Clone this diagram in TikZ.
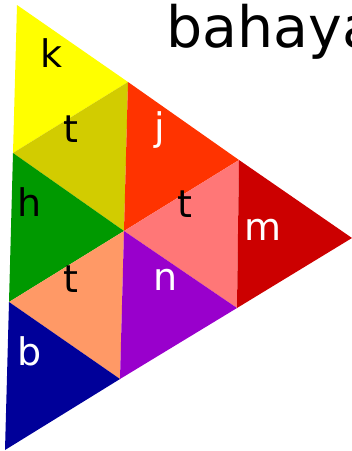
\documentclass[tikz,border=0pt]{standalone}
\usepackage{fontspec}
\setmainfont{DejaVu Sans}

\definecolor{kyellow}{HTML}{FFFF00}
\definecolor{tolive}{HTML}{D2CC00}
\definecolor{jorange}{HTML}{FF3300}
\definecolor{hgreen}{HTML}{009900}
\definecolor{tpink}{HTML}{FF7777}
\definecolor{mred}{HTML}{CC0000}
\definecolor{tsalmon}{HTML}{FF9966}
\definecolor{npurple}{HTML}{9900CC}
\definecolor{bnavy}{HTML}{000099}

\begin{document}
\begin{tikzpicture}[x=1pt,y=-1pt,
    lbl/.style={font=\fontsize{38}{38}\selectfont, anchor=base, inner sep=0pt},
    wlbl/.style={lbl, text=white}]

    \useasboundingbox (0,0) rectangle (352,451);

    % corner points of the small triangles
    \coordinate (a0) at (17,5);
    \coordinate (a1) at (13,153);
    \coordinate (a2) at (9,302);
    \coordinate (a3) at (5,450);
    \coordinate (b0) at (128,82);
    \coordinate (b1) at (124,231);
    \coordinate (b2) at (120,379);
    \coordinate (c0) at (239,160);
    \coordinate (c1) at (237,308);
    \coordinate (d0) at (352,238);

    % left strip
    \fill[kyellow] (a0) -- (b0) -- (a1) -- cycle;
    \fill[tolive]  (a1) -- (b0) -- (b1) -- cycle;
    \fill[hgreen]  (a1) -- (b1) -- (a2) -- cycle;
    \fill[tsalmon] (a2) -- (b1) -- (b2) -- cycle;
    \fill[bnavy]   (a2) -- (b2) -- (a3) -- cycle;

    % middle strip
    \fill[jorange] (b0) -- (c0) -- (b1) -- cycle;
    \fill[tpink]   (b1) -- (c0) -- (c1) -- cycle;
    \fill[npurple] (b1) -- (c1) -- (b2) -- cycle;

    % tip
    \fill[mred] (c0) -- (d0) -- (c1) -- cycle;

    % letters
    \node[lbl]  (k)  at (52,67)   {k};
    \node[lbl]  (t1) at (71,142)  {t};
    \node[wlbl] (j)  at (160,140) {j};
    \node[lbl]  (h)  at (30,216)  {h};
    \node[lbl]  (t2) at (185,217) {t};
    \node[wlbl] (m)  at (263,240) {m};
    \node[lbl]  (t3) at (71,292)  {t};
    \node[wlbl] (n)  at (166,290) {n};
    \node[wlbl] (b)  at (30,365)  {b};

    \node[font=\fontsize{57}{57}\selectfont, anchor=base west, inner sep=0pt]
        (title) at (166,47) {bahaya};
\end{tikzpicture}
\end{document}
